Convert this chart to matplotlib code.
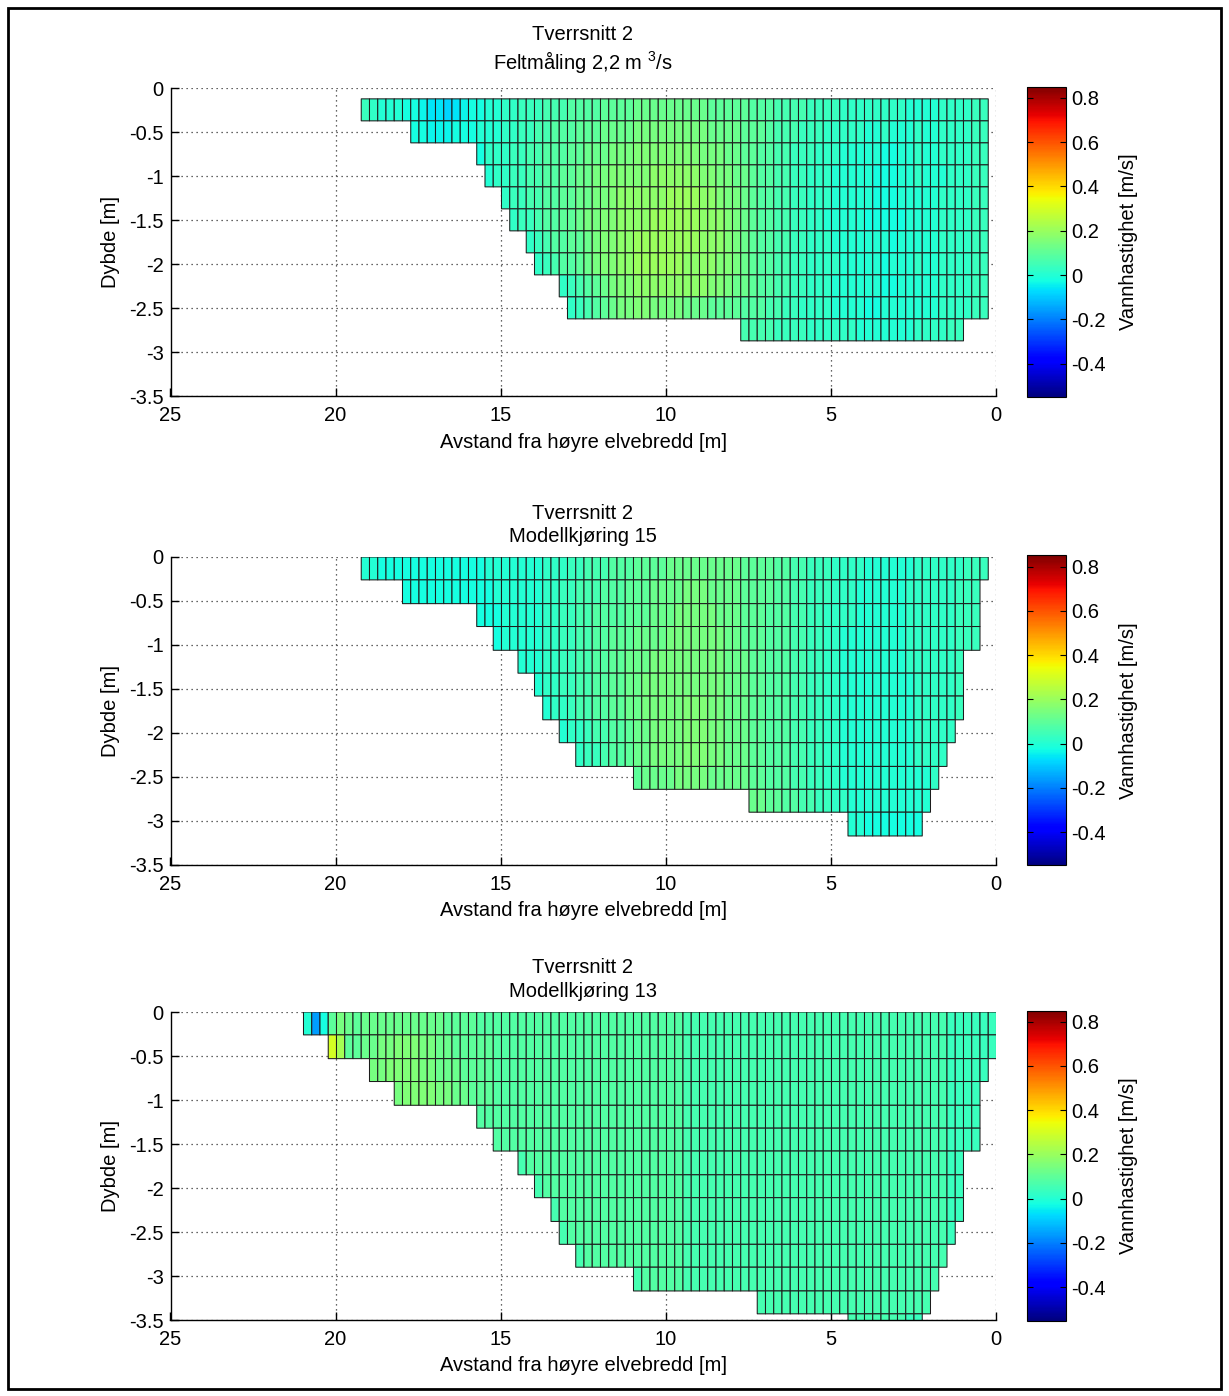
import numpy as np
import matplotlib
matplotlib.use("Agg")
import matplotlib.pyplot as plt
from matplotlib.patches import Rectangle
from matplotlib.transforms import offset_copy

plt.rcParams['font.family'] = ['Liberation Sans', 'DejaVu Sans']
plt.rcParams['mathtext.fontset'] = 'custom'
plt.rcParams['mathtext.rm'] = 'Liberation Sans'
plt.rcParams['mathtext.it'] = 'Liberation Sans:italic'
plt.rcParams['font.size'] = 14.5

# ------------------------------------------------------------------ data
section_title = "Tverrsnitt 2"
panel_titles = ["Feltmåling 2,2 m $^{\\mathrm{3}}$/s", "Modellkjøring 15", "Modellkjøring 13"]
xlabel_text = "Avstand fra høyre elvebredd [m]"
ylabel_text = "Dybde [m]"
cbar_label = "Vannhastighet [m/s]"

x_ticks = [25, 20, 15, 10, 5, 0]
x_ticklabels = ["25", "20", "15", "10", "5", "0"]
y_ticks = [0, -0.5, -1, -1.5, -2, -2.5, -3, -3.5]
y_ticklabels = ["0", "-0.5", "-1", "-1.5", "-2", "-2.5", "-3", "-3.5"]
cbar_ticks = [-0.4, -0.2, 0, 0.2, 0.4, 0.6, 0.8]
cbar_ticklabels = ["-0.4", "-0.2", "0", "0.2", "0.4", "0.6", "0.8"]
color_limits = [-0.55, 0.85]

# measurement / model cell grid
cell_width = 0.25
top_x_left = 19.22
mid_x_left = 19.22
bot_x_left = 20.97
top_depth_edges = [-0.12, -0.37, -0.62, -0.87, -1.12, -1.37, -1.62, -1.87, -2.12, -2.37, -2.62, -2.87]
mid_depth_edges = [0.0, -0.26, -0.53, -0.79, -1.06, -1.32, -1.58, -1.85, -2.11, -2.38, -2.64, -2.90, -3.17]
bot_depth_edges = [0.0, -0.26, -0.53, -0.79, -1.06, -1.32, -1.58, -1.85, -2.11, -2.38, -2.64, -2.90, -3.17,
                   -3.43, -3.70]

# velocity per cell, left (far bank) to right; 'k' = 0 m/s, one letter = 0.02 m/s, '.' = no cell
velocity_code_zero = 'k'
velocity_code_step = 0.02

top_rows = [
    "mlkk kjji hhgh ijjk kllm mmnn nooo oppp pqqq qqqq qqpp pppo oonn nnmm mmll llll llkk kkll llmm",
    ".... ..jj iiij jjkk kllm mnno oopp pqqq qrrr rrrr rrqq qqpp ponn nmmm llll lkkl kkkl kkll llmm",
    ".... .... .... ..jl llmm nnoo oppq qqrr rsss ssss srrr qqpp oonn mmml llkk kkkj jkkl kkll llmm",
    ".... .... .... ...k llmm nnoo ppqq rrss ssst tttt tssr rqqp oonn mmll lkkk kkjj jkkl kkkl llmm",
    ".... .... .... .... .lmm nnoo ppqq rrst tttt tuuu utts rrqp oonn mmll lkkk kkjj jkkk kkll llmm",
    ".... .... .... .... ..lm mnoo ppqr rsst tttu uuuu uttt srqp oonn mmll kkkk kjjj jjkk kkll llmm",
    ".... .... .... .... .... lmno oppq rsst tuuu uuuu uttt srqp oonn mmll lkkk kkkk jkkk kkll llmm",
    ".... .... .... .... .... .lmn oopq rsst tuuu uuut ttts srqp oonn mmll llkk kkkj kkkl kkll llmm",
    ".... .... .... .... .... .... lmno pqrs sttt tttt ttss rqqp oonn mmll lkkk kkkj jkkk kkll llmm",
    ".... .... .... .... .... .... .lmn opqr rssr rrrq qqpp ppoo onnm mlll lkkk kjjk kkkk kkll llmm",
    ".... .... .... .... .... .... .... .... .... .... .... ..nn nnmm mmll llll kkkk kkkl lllm m...",
]

mid_rows = [
    "kkjj jjjj jjjj jjjk kkkk kkll lmmn nnoo oppp pqqq qqqq qqpp ppoo nnmm mlll lkkk kkkl llll lmmm",
    ".... .jjj jjjj jjjj kkkk kkll mmnn nooo pppq qqqr rrqq qqpp ppoo nnmm mlll kkkk kkll llll mmm.",
    ".... .... .... ..jj jkkk kkll mmnn oooo pppq qqrr rrrq qqpp pooo nnmm llll kkkk kkll llll mmm.",
    ".... .... .... .... jkkk kkll mmnn oopp pqqq qrrr rrrr qqpp pooo nnmm llkk kkkk kkll llll mmm.",
    ".... .... .... .... ...k kkll mmnn oopp qqqr rrrr rrrr qqqp pooo nnmm llkk kkkk kkll llll m...",
    ".... .... .... .... .... .kll mmnn oopp qqrr rrrr rrrr qqqp pooo nnmm llkk kkkk kkkl llll m...",
    ".... .... .... .... .... ..kl lmnn oopp qqrr rrrs ssrr qqqp pooo nnmm llkk kkkk kkkl llll m...",
    ".... .... .... .... .... .... kllm nnoo pqqr rrrs ssrr qqqp pooo nnmm llkk kkkk kkkl llll ....",
    ".... .... .... .... .... .... ..lm mnoo pqqr rrrs ssrr qqqp pooo nnmm llkk kkkk kkkl lll. ....",
    ".... .... .... .... .... .... .... .... .pqq qqrr rrqq qqqp pooo nnmm llkk kkkk kkkk kl.. ....",
    ".... .... .... .... .... .... .... .... .... .... .... ...q qppo onnm mllk kkkk kkkk k... ....",
    ".... .... .... .... .... .... .... .... .... .... .... .... .... .... ...k kjjj jjjj .... ....",
]

bot_rows = [
    "kcjp rqpq qqqq qqqq qppp pooo oooo oooo oooo oooo oooo oonn nnnn nnnn nnnn nnnn nnnn nnnn nnnn nnmm mmmm",
    "...z vppq qrrs ssrr qqpp pppo oooo oooo oooo oooo oooo oonn nnnn nnnn nnnn nnnn nnnn nnnn nnnn nnmm mmmm",
    ".... .... rrss ssrr qqqp pppo oooo oooo oooo oooo oooo oonn nnnn nnnn nnnn nnnn nnnn nnnn nnnn nnmm mmm.",
    ".... .... ...r ssss rrqq pppo oooo oooo oooo oooo oooo oonn nnnn nnnn nnnn nnnn nnnn nnnn nnnn nnmm mm..",
    ".... .... .... .... .... .ooo oooo oooo oooo oooo oooo oonn nnnn nnnn nnnn nnnn nnnn nnnn nnnn nnmm mm..",
    ".... .... .... .... .... ...o oooo oooo oooo oooo oooo oonn nnnn nnnn nnnn nnnn nnnn nnnn nnnn nnmm mm..",
    ".... .... .... .... .... .... ..no oooo oooo oooo oooo oonn nnnn nnnn nnnn nnnn nnnn nnnn nnnn nnmm ....",
    ".... .... .... .... .... .... .... nooo oooo oooo oooo oonn nnnn nnnn nnnn nnnn nnnn nnnn nnnn nnmm ....",
    ".... .... .... .... .... .... .... ..no oooo oooo oooo oonn nnnn nnnn nnnn nnnn nnnn nnnn nnnn nnmm ....",
    ".... .... .... .... .... .... .... ...n oooo oooo oooo oonn nnnn nnnn nnnn nnnn nnnn nnnn nnnn nnm. ....",
    ".... .... .... .... .... .... .... .... .noo oooo oooo oonn nnnn nnnn nnnn nnnn nnnn nnnn nnnn nn.. ....",
    ".... .... .... .... .... .... .... .... .... .... nooo oonn nnnn nnnn nnnn nnnn nnnn nnnn nnnn n... ....",
    ".... .... .... .... .... .... .... .... .... .... .... .... .... ...n nnnn nnnn nnnn nnnn nnnn .... ....",
    ".... .... .... .... .... .... .... .... .... .... .... .... .... .... .... .... ..nn nnnn nmm. .... ....",
]


def decode(rows):
    rows = [r.replace(" ", "") for r in rows]
    ncol = len(rows[0])
    assert all(len(r) == ncol for r in rows)
    arr = np.full((len(rows), ncol), np.nan)
    for i, r in enumerate(rows):
        for j, ch in enumerate(r):
            if ch != '.':
                arr[i, j] = (ord(ch) - ord(velocity_code_zero)) * velocity_code_step
    return np.ma.masked_invalid(arr)


# ------------------------------------------------------------------ layout
W, H = 1229, 1396
fig = plt.figure(figsize=(W / 100, H / 100), dpi=100)


def px_rect(x0, y0, w, h):
    return [x0 / W, 1 - (y0 + h) / H, w / W, h / H]


panels = [
    (panel_titles[0], top_rows, top_depth_edges, top_x_left, 88.3, 48, 19),
    (panel_titles[1], mid_rows, mid_depth_edges, mid_x_left, 557, 38, 15),
    (panel_titles[2], bot_rows, bot_depth_edges, bot_x_left, 1012, 39, 15),
]

for title, rows, zedges, xleft, y0, dt1, dt2 in panels:
    ax = fig.add_axes(px_rect(170.5, y0, 825, 308))
    vel = decode(rows)
    xedges = xleft - cell_width * np.arange(vel.shape[1] + 1)
    pc = ax.pcolor(xedges, np.array(zedges), vel, cmap='jet',
                   vmin=color_limits[0], vmax=color_limits[1],
                   edgecolors='#1c1c1c', linewidth=0.75)
    ax.set_xlim(25, 0)
    ax.set_ylim(-3.5, 0)
    ax.set_xticks(x_ticks)
    ax.set_xticklabels(x_ticklabels)
    ax.set_yticks(y_ticks)
    ax.set_yticklabels(y_ticklabels)
    ax.set_axisbelow(True)
    ax.grid(True, linestyle=(0, (1, 3)), color='#333333', linewidth=0.9)
    for s in ['top', 'right']:
        ax.spines[s].set_visible(False)
    for s in ['left', 'bottom']:
        ax.spines[s].set_linewidth(1.0)
    ax.tick_params(axis='x', direction='in', length=6, width=1, pad=7, top=False)
    ax.tick_params(axis='y', direction='in', length=6, width=1, pad=5, right=False)

    ax.set_xlabel(xlabel_text, va='center')
    ax.xaxis.set_label_coords(0.5, -(442 - 396.3) / 308)
    ax.set_ylabel(ylabel_text, va='center')
    ax.yaxis.set_label_coords(-(170.5 - 111) / 825, 0.5)

    ax.text(0.5, 1.0, section_title, ha='center', va='baseline',
            transform=offset_copy(ax.transAxes, fig=fig, x=0, y=dt1, units='dots'))
    ax.text(0.5, 1.0, title, ha='center', va='baseline',
            transform=offset_copy(ax.transAxes, fig=fig, x=0, y=dt2, units='dots'))

    cax = fig.add_axes(px_rect(1027, y0 - 1.5, 39, 310))
    cb = fig.colorbar(pc, cax=cax, ticks=cbar_ticks)
    cb.ax.set_yticklabels(cbar_ticklabels)
    cb.outline.set_linewidth(0.8)
    cb.ax.tick_params(direction='in', left=True, right=True, length=4, width=0.8, pad=4)
    cb.set_label(cbar_label, va='center')
    cb.ax.yaxis.set_label_coords((1128 - 1027) / 39, 0.5)

# outer frame
fig.add_artist(Rectangle((8 / W, 1 - 1389 / H), (1221 - 8) / W, (1389 - 8) / H,
                         transform=fig.transFigure, fill=False, edgecolor='k', linewidth=2))

fig.savefig("out.png", dpi=100)
